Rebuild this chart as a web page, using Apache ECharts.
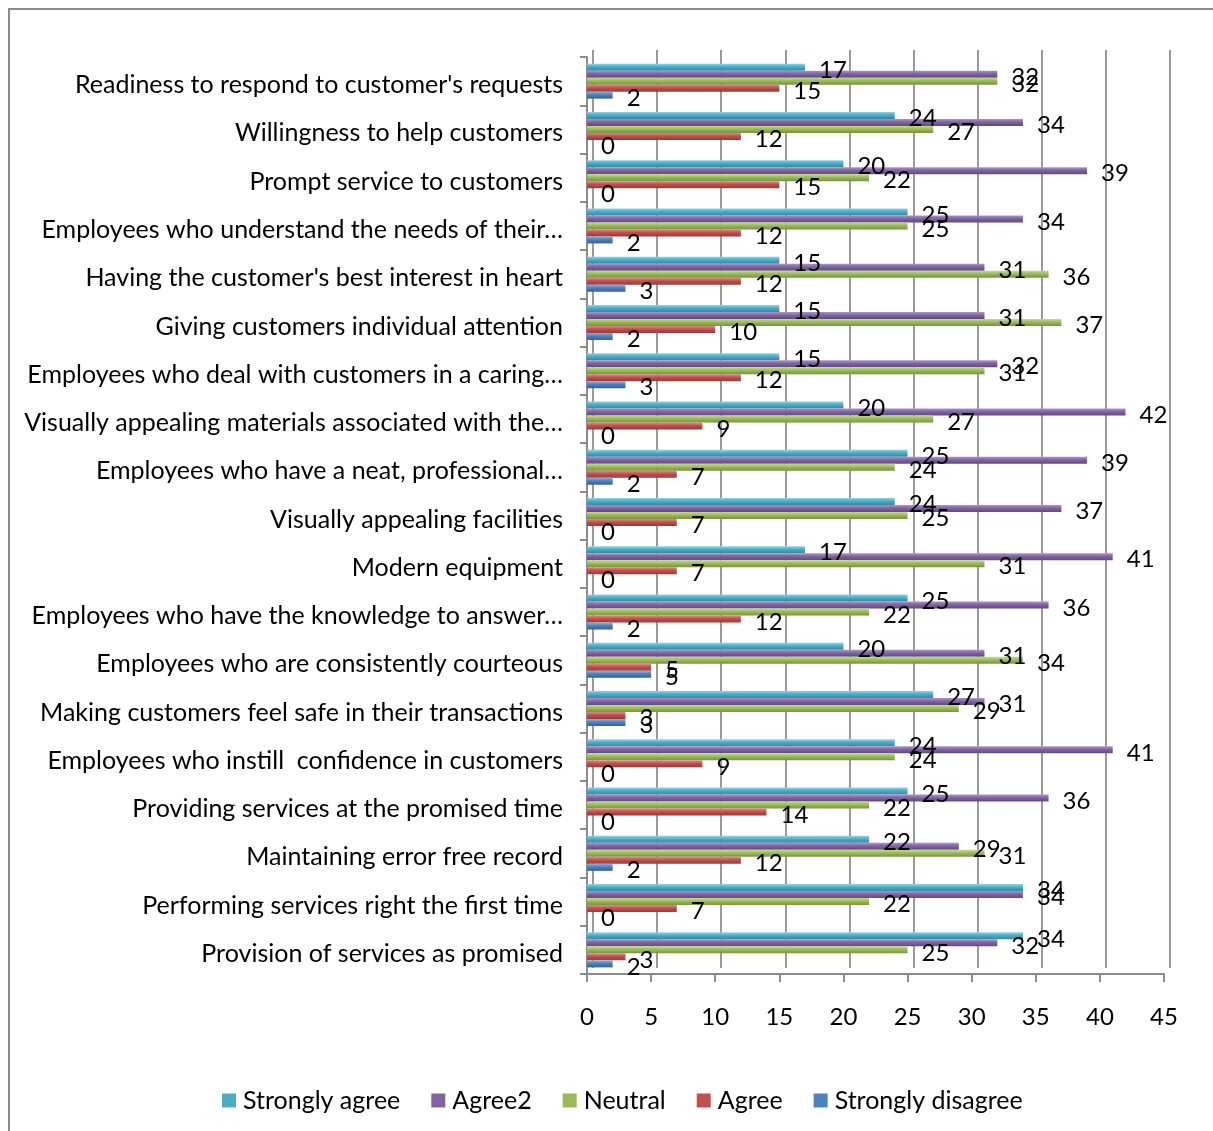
<!DOCTYPE html>
<html>
<head>
<meta charset="utf-8">
<script src="https://cdn.jsdelivr.net/npm/echarts@6/dist/echarts.min.js"></script>
<style>
  html, body { margin: 0; padding: 0; background: #fff; }
  #chart { width: 1213px; height: 1131px; }
</style>
</head>
<body>
<div id="chart"></div>
<script>
// categories, top to bottom as in the picture
const categories = [
  "Readiness to respond to customer's requests",
  'Willingness to help customers',
  'Prompt service to customers',
  'Employees who understand the needs of their\u2026',
  "Having the customer's best interest in heart",
  'Giving customers individual attention',
  'Employees who deal with customers in a caring\u2026',
  'Visually appealing materials associated with the\u2026',
  'Employees who have a neat, professional\u2026',
  'Visually appealing facilities',
  'Modern equipment',
  'Employees who have the knowledge to answer\u2026',
  'Employees who are consistently courteous',
  'Making customers feel safe in their transactions',
  'Employees who instill  confidence in customers',
  'Providing services at the promised time',
  'Maintaining error free record',
  'Performing services right the first time',
  'Provision of services as promised'
]
const stronglyAgree = [17, 24, 20, 25, 15, 15, 15, 20, 25, 24, 17, 25, 20, 27, 24, 25, 22, 34, 34]
const agree2 = [32, 34, 39, 34, 31, 31, 32, 42, 39, 37, 41, 36, 31, 31, 41, 36, 29, 34, 32]
const neutral = [32, 27, 22, 25, 36, 37, 31, 27, 24, 25, 31, 22, 34, 29, 24, 22, 31, 22, 25]
const agree = [15, 12, 15, 12, 12, 10, 12, 9, 7, 7, 7, 12, 5, 3, 9, 14, 12, 7, 3]
const stronglyDisagree = [2, 0, 0, 2, 3, 2, 3, 0, 2, 0, 0, 2, 5, 3, 0, 0, 2, 0, 2]

const FONT = 'Lato, "Open Sans", sans-serif'
const TEXT_SIZE = 25
const NUM_SIZE = 24

// light top / dark bottom so the bars look a bit like the 3d ones
function tube(light, base, dark) {
  return new echarts.graphic.LinearGradient(0, 0, 0, 1, [
    { offset: 0, color: light },
    { offset: 0.45, color: base },
    { offset: 1, color: dark }
  ])
}

const seriesDefs = [
  { name: 'Strongly agree', data: stronglyAgree, color: '#4bacc6', fill: tube('#8fd3e6', '#4bacc6', '#2f8aa3') },
  { name: 'Agree2', data: agree2, color: '#8064a2', fill: tube('#ac95c8', '#8064a2', '#5f4a7d') },
  { name: 'Neutral', data: neutral, color: '#9bbb59', fill: tube('#c4dc8f', '#9bbb59', '#77923f') },
  { name: 'Agree', data: agree, color: '#c0504d', fill: tube('#e08c8a', '#c0504d', '#983a38') },
  { name: 'Strongly disagree', data: stronglyDisagree, color: '#4f81bd', fill: tube('#8db0dd', '#4f81bd', '#365f92') }
]

const chart = echarts.init(document.getElementById('chart'))

const hiddenValueAxis = (gridIndex) => ({
  gridIndex, type: 'value', min: 0, max: 45, interval: 5, show: false
})

chart.setOption({
  animation: false,
  textStyle: { fontFamily: FONT },
  graphic: [{
    type: 'rect',
    shape: { x: 9, y: 9, width: 1230, height: 1200 },
    style: { fill: 'none', stroke: '#8c8c8c', lineWidth: 2 },
    silent: true
  }],
  legend: {
    data: seriesDefs.map(s => ({ name: s.name, itemStyle: { color: s.color } })),
    top: 1083,
    left: 217,
    itemWidth: 14,
    itemHeight: 14,
    itemGap: 31,
    icon: 'rect',
    textStyle: { fontSize: TEXT_SIZE, color: '#000', fontFamily: FONT, padding: [0, 0, 0, 2] }
  },
  grid: [
    { left: 587, top: 57, width: 577, height: 917 },
    // back wall of the 3d plot: only its gridlines are drawn
    { left: 593, top: 50, width: 577, height: 918 },
    // category labels sit a little lower than the bars
    { left: 587, top: 61, width: 577, height: 917 }
  ],
  xAxis: [
    {
      gridIndex: 0, type: 'value', min: 0, max: 45, interval: 5,
      axisLine: { show: true, lineStyle: { color: '#8c8c8c', width: 2 } },
      axisTick: { show: true, length: 8, lineStyle: { color: '#8c8c8c', width: 2 } },
      axisLabel: { fontSize: NUM_SIZE, color: '#000', margin: 31, fontFamily: FONT },
      splitLine: { show: false }
    },
    {
      gridIndex: 1, type: 'value', min: 0, max: 45, interval: 5,
      axisLine: { show: false }, axisTick: { show: false }, axisLabel: { show: false },
      splitLine: { show: true, lineStyle: { color: '#9a9a9a', width: 2 } }
    },
    hiddenValueAxis(2)
  ],
  yAxis: [
    {
      gridIndex: 0, type: 'category', data: categories, inverse: true,
      axisLine: { show: true, lineStyle: { color: '#8c8c8c', width: 2 } },
      axisTick: { show: true, length: 7, lineStyle: { color: '#8c8c8c', width: 2 } },
      axisLabel: { show: false }
    },
    { gridIndex: 1, type: 'category', data: categories, inverse: true, show: false },
    {
      gridIndex: 2, type: 'category', data: categories, inverse: true,
      axisLine: { show: false }, axisTick: { show: false },
      axisLabel: { fontSize: TEXT_SIZE, color: '#000', margin: 24, fontFamily: FONT }
    }
  ],
  series: seriesDefs.map(s => ({
    name: s.name,
    type: 'bar',
    xAxisIndex: 0,
    yAxisIndex: 0,
    data: s.data,
    barWidth: 7,
    barGap: '0%',
    itemStyle: { color: s.fill },
    label: {
      show: true,
      position: 'right',
      distance: 14,
      offset: [0, 3],
      fontSize: NUM_SIZE,
      color: '#000',
      fontFamily: FONT
    }
  })).concat([
    // empty series so the extra grids keep their axes
    { type: 'bar', xAxisIndex: 1, yAxisIndex: 1, data: [], silent: true },
    { type: 'bar', xAxisIndex: 2, yAxisIndex: 2, data: [], silent: true }
  ]),
  color: seriesDefs.map(s => s.color)
})
</script>
</body>
</html>
